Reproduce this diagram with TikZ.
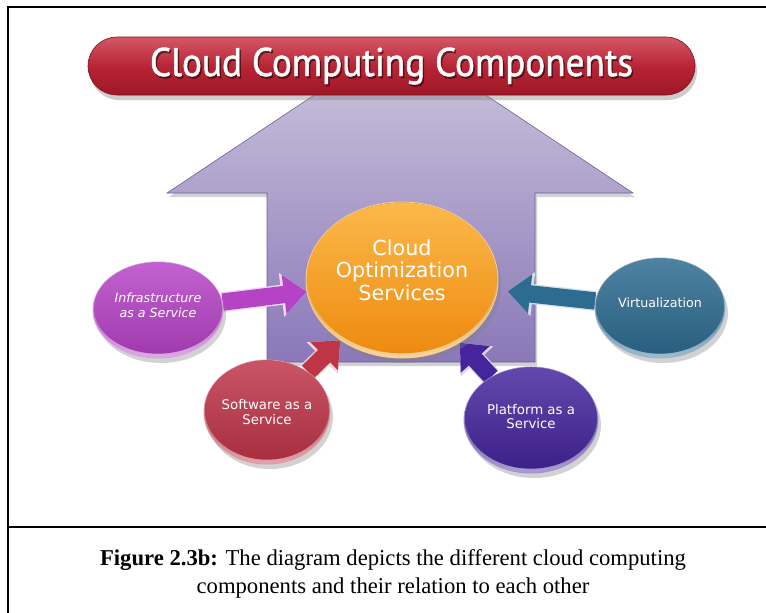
\documentclass[tikz,border=0pt]{standalone}
\usepackage{fontspec}
\setmainfont{Liberation Serif}
\newfontfamily\titlefont[FakeStretch=0.93,FakeBold=1.2]{PT Sans}
\newfontfamily\discfont{DejaVu Sans}
\usetikzlibrary{shapes.geometric,arrows.meta,shadows,fadings}
\pgfdeclarelayer{back}
\pgfdeclarelayer{mid}
\pgfsetlayers{back,mid,main}
\definecolor{housetop}{HTML}{CFC8DE}
\definecolor{housebot}{HTML}{8A78B8}
\definecolor{bantop}{HTML}{D45867}
\definecolor{banmid}{HTML}{B82535}
\definecolor{banbot}{HTML}{9E1626}
\definecolor{infraC}{HTML}{B643C6}
\definecolor{softC}{HTML}{BE3548}
\definecolor{platC}{HTML}{45259C}
\definecolor{virtC}{HTML}{2D6B90}
\definecolor{cosC}{HTML}{F59E22}
\definecolor{cosTop}{HTML}{FBB94A}
\definecolor{cosBot}{HTML}{EE8A10}
\tikzset{
  discbase/.style={ellipse, inner sep=0pt, draw=white!50!#1, line width=0.7pt,
    top color=black!25!#1, bottom color=white!55!#1,
    drop shadow={shadow xshift=2.25pt, shadow yshift=-3.75pt, opacity=0.35}},
  discface/.style={ellipse, inner sep=0pt, draw=none,
    top color=white!16!#1, bottom color=black!12!#1},
  disctext/.style={text=white, font=\discfont, align=center, inner sep=0pt},
  conn/.style={line width=13pt, draw=#1, -{Triangle[length=17pt,width=28.5pt]},
    preaction={draw=white!80!#1, line width=15pt, -{Triangle[length=19pt,width=32pt]}}},
}
\begin{document}
\begin{tikzpicture}[x=0.75pt, y=-0.75pt]
\useasboundingbox (0,0) rectangle (766,612);
\begin{pgfonlayer}{back}
\fill[white] (0,0) rectangle (766,612);
% house
\draw[draw=housebot!80!black, line width=0.45pt, top color=housetop, bottom color=housebot,
  drop shadow={shadow xshift=1.5pt, shadow yshift=-3pt, opacity=0.35}]
  (400,38) -- (633,193) -- (535,193) -- (535,362) -- (267,362) -- (267,193) -- (167,193) -- cycle;
\end{pgfonlayer}
% frame
\draw[line width=1.95pt] (8,615) -- (8,7) -- (770,7);
\draw[line width=1.95pt] (8,527) -- (770,527);
% banner
\node[rounded corners=21.75pt, minimum width=455.25pt, minimum height=43.5pt, inner sep=0pt,
  top color=bantop, bottom color=banbot, middle color=banmid, draw=banbot!80!black, line width=0.45pt,
  drop shadow={shadow xshift=1.5pt, shadow yshift=-3.75pt, opacity=0.4}] (banner) at (391.5,66) {};
\node[text=black, opacity=0.45, font=\titlefont\fontsize{30pt}{34pt}\selectfont] (titleshadow) at ([xshift=1.1pt,yshift=-1.5pt]banner.center) {Cloud Computing Components};
\node[text=white, font=\titlefont\fontsize{30pt}{34pt}\selectfont] (title) at (banner.center) {Cloud Computing Components};
% discs
\node[discbase=cosC, minimum width=144pt, minimum height=117pt] (cos) at (402,280) {};
\node[discface=cosC, top color=cosTop, bottom color=cosBot, minimum width=142pt, minimum height=113pt] (cosF) at ([yshift=1.5pt]cos.center) {};
\node[discbase=infraC, minimum width=97.5pt, minimum height=72pt] (infra) at (158,310) {};
\node[discface=infraC, minimum width=96pt, minimum height=68.5pt] (infraF) at ([yshift=1.5pt]infra.center) {};
\node[discbase=softC, minimum width=94.5pt, minimum height=78pt] (soft) at (267,412) {};
\node[discface=softC, minimum width=93pt, minimum height=74.5pt] (softF) at ([yshift=1.5pt]soft.center) {};
\node[discbase=platC, minimum width=100.5pt, minimum height=79.5pt] (plat) at (531,420) {};
\node[discface=platC, minimum width=99pt, minimum height=76pt] (platF) at ([yshift=1.5pt]plat.center) {};
\node[discbase=virtC, minimum width=97.5pt, minimum height=75pt] (virt) at (660,308) {};
\node[discface=virtC, minimum width=96pt, minimum height=71.5pt] (virtF) at ([yshift=1.5pt]virt.center) {};
% connectors
\begin{pgfonlayer}{mid}
\draw[conn=infraC] (infra) -- (cos);
\draw[conn=softC] (soft) -- (cos);
\draw[conn=platC] (plat) -- (cos);
\draw[conn=virtC, shorten >=7.5pt] (virt) -- (cos);
\end{pgfonlayer}
% texts
\node[disctext, font=\discfont\fontsize{15.5pt}{17pt}\selectfont] (cosT) at ([yshift=7.5pt]cos.center) {Cloud\\Optimization\\Services};
\node[disctext, font=\discfont\itshape\fontsize{9.5pt}{11pt}\selectfont] (infraT) at ([yshift=3.75pt]infra.center) {Infrastructure\\as a Service};
\node[disctext, font=\discfont\fontsize{10pt}{11pt}\selectfont] (softT) at (soft.center) {Software as a\\Service};
\node[disctext, font=\discfont\fontsize{10pt}{11pt}\selectfont] (platT) at ([yshift=2.6pt]plat.center) {Platform as a\\Service};
\node[disctext, font=\discfont\fontsize{9.5pt}{11pt}\selectfont] (virtT) at ([yshift=3.75pt]virt.center) {Virtualization};
% caption
\node[font=\fontsize{17pt}{20.5pt}\selectfont, align=center, anchor=north] (cap) at (393,545)
  {\textbf{Figure 2.3b:} The diagram depicts the different cloud computing\\components and their relation to each other};
\end{tikzpicture}
\end{document}
